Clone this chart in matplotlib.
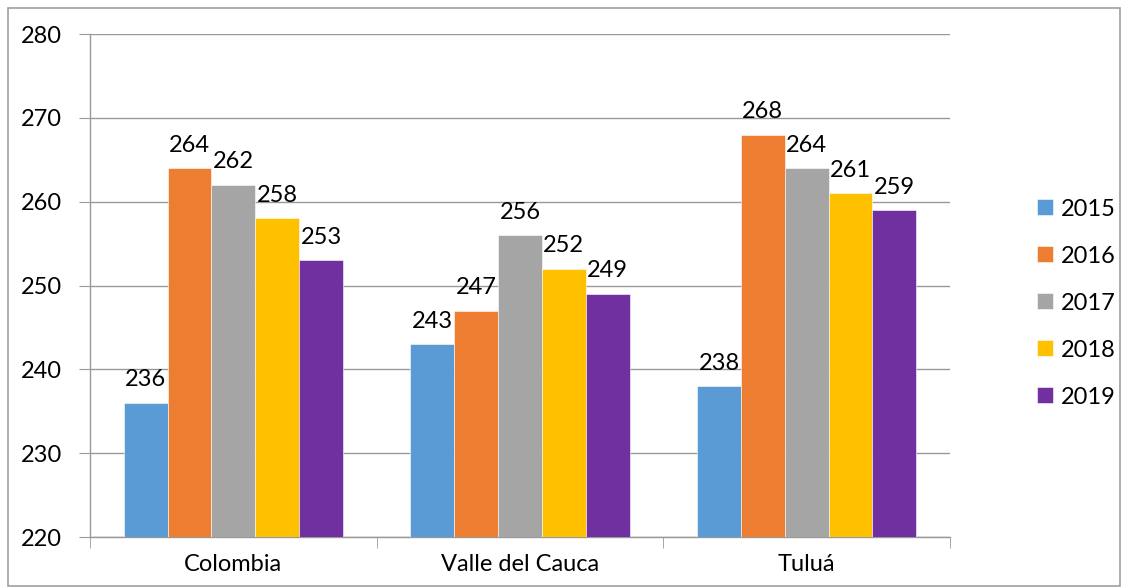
import matplotlib
matplotlib.use("Agg")
import matplotlib.pyplot as plt
import numpy as np
from matplotlib.patches import Rectangle

categories = ["Colombia", "Valle del Cauca", "Tuluá"]
years = ["2015", "2016", "2017", "2018", "2019"]
values = {
    "2015": [236, 243, 238],
    "2016": [264, 247, 268],
    "2017": [262, 256, 264],
    "2018": [258, 252, 261],
    "2019": [253, 249, 259],
}
colors = ["#5B9BD5", "#ED7D31", "#A5A5A5", "#FFC000", "#7030A0"]
yticks = [220, 230, 240, 250, 260, 270, 280]

plt.rcParams['font.family'] = ['Lato', 'DejaVu Sans']
FS = 17

fig = plt.figure(figsize=(11.28, 5.88), dpi=100)
ax = fig.add_axes([90/1128, 1-537/588, (950-90)/1128, (537-34)/588])

x = np.arange(len(categories))
bw = 0.153
n = len(years)
for i, yr in enumerate(years):
    pos = x + (i - (n-1)/2) * bw
    ax.bar(pos, np.array(values[yr]) - 220, bottom=220, width=bw,
           color=colors[i], edgecolor='white', linewidth=0.4, label=yr, zorder=3)
    for p, v in zip(pos, values[yr]):
        ax.annotate(str(v), (p, v), xytext=(0, 9), textcoords='offset points',
                    ha='center', va='bottom', fontsize=FS, color='#000000', zorder=4)

ax.set_xlim(-0.5, 2.5)
ax.set_ylim(220, 280)
ax.set_yticks(yticks)
ax.set_yticklabels([str(t) for t in yticks], fontsize=FS)
ax.set_xticks(x)
ax.set_xticklabels(categories, fontsize=FS)
ax.set_xticks([-0.5, 0.5, 1.5, 2.5], minor=True)
ax.tick_params(axis='x', which='major', length=0, pad=12)
ax.tick_params(axis='x', which='minor', length=8, color='#999999', direction='out')
ax.tick_params(axis='y', length=8, color='#999999', direction='out', pad=12)
ax.grid(axis='y', color='#999999', linewidth=1, zorder=0)
ax.set_axisbelow(True)
for s in ['top', 'right']:
    ax.spines[s].set_visible(False)
for s in ['left', 'bottom']:
    ax.spines[s].set_color('#999999')
    ax.spines[s].set_linewidth(1)

leg = ax.legend(loc='center left', bbox_to_anchor=(1.077, 0.465), frameon=False,
                fontsize=FS, handlelength=0.65, handleheight=0.65, handletextpad=0.35,
                labelspacing=1.1)

fig.patches.append(Rectangle((8/1128, 2/588), 1-16/1128, 1-10/588, transform=fig.transFigure,
                             fill=False, edgecolor='#A0A0A0', linewidth=1.2))

fig.savefig("out.png", dpi=100)
